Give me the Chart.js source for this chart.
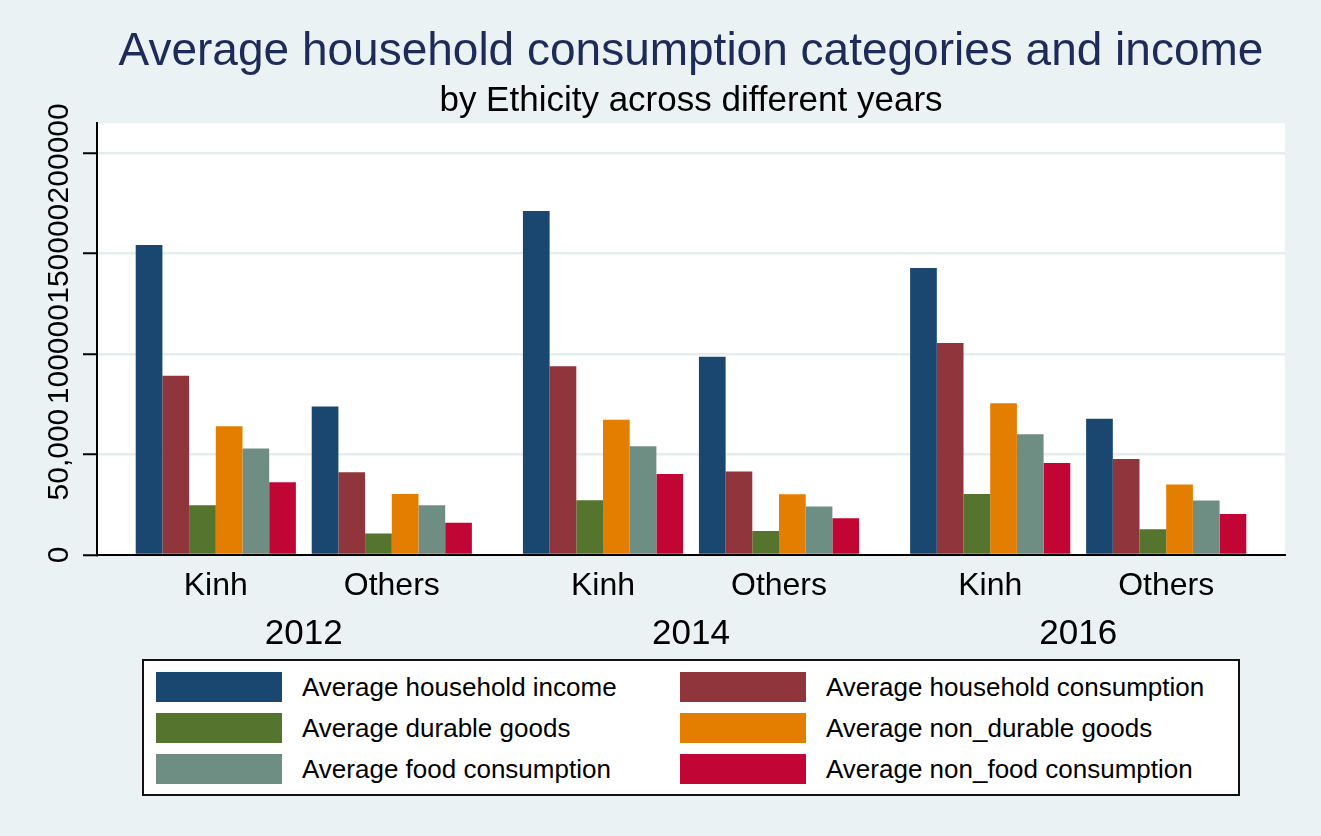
<!DOCTYPE html>
<html>
<head>
<meta charset="utf-8">
<title>Average household consumption categories and income</title>
<script src="https://cdn.jsdelivr.net/npm/chart.js@4.4.1/dist/chart.umd.min.js"></script>
<style>
    html, body { margin: 0; padding: 0; background: #EAF2F3; }
    #wrap { position: relative; width: 1321px; height: 836px; }
    #legend {
        position: absolute; left: 142px; top: 659px; width: 1098px; height: 137px;
        box-sizing: border-box; border: 2px solid #111; background: #fff;
        padding: 11px 0 0 12px;
        display: grid; grid-template-columns: 524px 1fr; grid-auto-rows: 30px; row-gap: 11px;
        font-family: "Liberation Sans", Arial, sans-serif; font-size: 26px; color: #000;
    }
    .item { display: flex; align-items: center; white-space: nowrap; }
    .swatch { width: 126px; height: 30px; margin-right: 20px; flex: none; }
</style>
</head>
<body>
<div id="wrap">
    <canvas id="chart"></canvas>
    <div id="legend"></div>
</div>
<script>
// Categories
const years = ['2012', '2014', '2016'];
const ethnicGroups = ['Kinh', 'Others'];

// Series values, order: 2012 Kinh, 2012 Others, 2014 Kinh, 2014 Others, 2016 Kinh, 2016 Others
const income      = [154400, 73900, 171300, 98700, 142900, 67900];
const consumption = [89300, 41200, 94000, 41600, 105600, 47800];
const durable     = [24800, 10700, 27200, 11900, 30400, 12800];
const nonDurable  = [64100, 30400, 67300, 30200, 75500, 35100];
const food        = [53000, 24800, 54200, 24200, 60100, 27100];
const nonFood     = [36200, 16100, 40300, 18300, 45800, 20400];

const seriesLabels = [
    'Average household income', 'Average household consumption',
    'Average durable goods', 'Average non_durable goods',
    'Average food consumption', 'Average non_food consumption'
];
const seriesColors = ['#1A476F', '#90353B', '#55752F', '#E37E00', '#6E8E84', '#C10534'];

// Tick labels
const yTickValues = [0, 50000, 100000, 150000, 200000];
const yTickLabels = ['0', '50,000', '100000', '150000', '200000'];

// Layout of the groups along x: years are set a bit further apart than ethnic groups
const YEAR_STEP = 2.2;
const xPositions = [];
const xLabels = [];
years.forEach((yr, i) => {
    ethnicGroups.forEach((g, j) => {
        xPositions.push(i * YEAR_STEP + j);
        xLabels.push(g);
    });
});
const yearPositions = years.map((yr, i) => i * YEAR_STEP + 0.5);
const X_MIN = -0.675;
const X_MAX = (years.length - 1) * YEAR_STEP + 1 + 0.675;

const allSeries = [income, consumption, durable, nonDurable, food, nonFood];

Chart.defaults.font.family = '"Liberation Sans", Arial, sans-serif';
Chart.defaults.color = '#000';

// White plot region
const plotBackground = {
    id: 'plotBackground',
    beforeDraw(chart) {
        const a = chart.chartArea;
        const ctx = chart.ctx;
        ctx.save();
        ctx.fillStyle = '#fff';
        ctx.fillRect(a.left, a.top, a.right - a.left, a.bottom - a.top);
        ctx.restore();
    }
};

// Vertical y tick labels (Stata style)
const verticalYLabels = {
    id: 'verticalYLabels',
    afterDraw(chart) {
        const scale = chart.scales.y;
        const ctx = chart.ctx;
        ctx.save();
        ctx.font = '30px "Liberation Sans", Arial, sans-serif';
        ctx.fillStyle = '#000';
        ctx.textAlign = 'center';
        ctx.textBaseline = 'middle';
        yTickValues.forEach((v, i) => {
            const py = scale.getPixelForValue(v);
            ctx.save();
            ctx.translate(60, py);
            ctx.rotate(-Math.PI / 2);
            ctx.fillText(yTickLabels[i], 0, 0);
            ctx.restore();
        });
        ctx.restore();
    }
};

const datasets = allSeries.map((values, k) => ({
    label: seriesLabels[k],
    data: values.map((v, i) => ({ x: xPositions[i], y: v })),
    backgroundColor: seriesColors[k],
    borderWidth: 0,
    categoryPercentage: 0.91,
    barPercentage: 1.0
}));

new Chart(document.getElementById('chart'), {
    type: 'bar',
    data: { datasets: datasets },
    options: {
        responsive: true,
        maintainAspectRatio: false,
        animation: false,
        layout: { padding: { left: 0, right: 36, top: 0, bottom: 171 } },
        plugins: {
            legend: { display: false },
            tooltip: { enabled: false },
            title: {
                display: true,
                fullSize: false,
                text: 'Average household consumption categories and income',
                color: '#1E2B58',
                font: { size: 46, weight: 'normal' },
                padding: { top: 25, bottom: 0 }
            },
            subtitle: {
                display: true,
                fullSize: false,
                text: 'by Ethicity across different years',
                color: '#000',
                font: { size: 35, weight: 'normal' },
                padding: { top: 0, bottom: 1 }
            }
        },
        scales: {
            x: {
                type: 'linear',
                min: X_MIN,
                max: X_MAX,
                offset: false,
                weight: 0,
                afterBuildTicks: s => { s.ticks = xPositions.map(v => ({ value: v })); },
                afterFit: s => { s.height = 50; },
                ticks: {
                    autoSkip: false, maxRotation: 0, minRotation: 0, padding: 12,
                    font: { size: 32 }, color: '#000',
                    callback: (v, i) => xLabels[i]
                },
                grid: { display: false, drawTicks: false },
                border: { display: true, color: '#000', width: 2 }
            },
            x2: {
                type: 'linear',
                position: 'bottom',
                min: X_MIN,
                max: X_MAX,
                offset: false,
                weight: 1,
                afterBuildTicks: s => { s.ticks = yearPositions.map(v => ({ value: v })); },
                afterFit: s => { s.height = 60; },
                ticks: {
                    autoSkip: false, maxRotation: 0, minRotation: 0, padding: 8,
                    font: { size: 35 }, color: '#000',
                    callback: (v, i) => years[i]
                },
                grid: { display: false, drawTicks: false },
                border: { display: false }
            },
            y: {
                min: 0,
                max: 215000,
                afterBuildTicks: s => { s.ticks = yTickValues.map(v => ({ value: v })); },
                afterFit: s => { s.width = 97; },
                ticks: { display: false },
                grid: {
                    color: ctx => (ctx.tick && ctx.tick.value === 0) ? 'rgba(0,0,0,0)' : '#E5EEEF',
                    lineWidth: 2.5,
                    drawTicks: true,
                    tickLength: 14,
                    tickColor: '#000',
                    tickWidth: 2
                },
                border: { display: true, color: '#000', width: 2 }
            }
        }
    },
    plugins: [plotBackground, verticalYLabels]
});

// HTML legend, two columns as in the original
const legendEl = document.getElementById('legend');
seriesLabels.forEach((label, k) => {
    const item = document.createElement('div');
    item.className = 'item';
    const sw = document.createElement('span');
    sw.className = 'swatch';
    sw.style.background = seriesColors[k];
    const txt = document.createElement('span');
    txt.textContent = label;
    item.appendChild(sw);
    item.appendChild(txt);
    legendEl.appendChild(item);
});
</script>
</body>
</html>
